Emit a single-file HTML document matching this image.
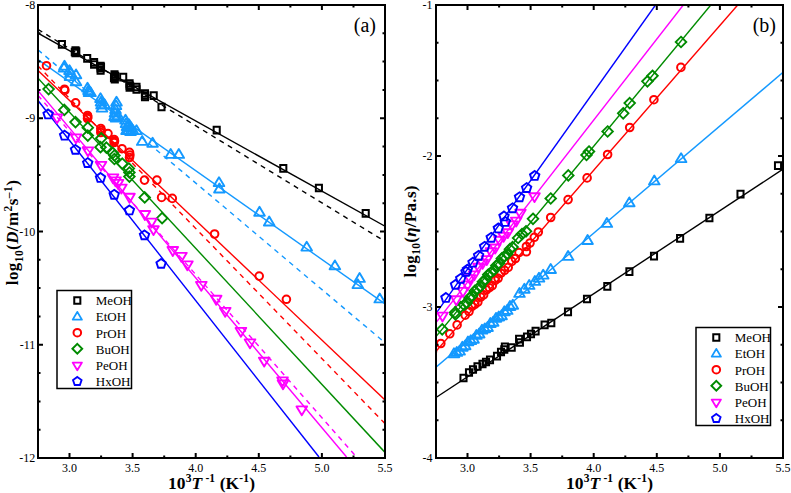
<!DOCTYPE html><html><head><meta charset="utf-8"><style>html,body{margin:0;padding:0;background:#fff;width:791px;height:493px;overflow:hidden}svg{display:block}text{font-family:"Liberation Serif",serif}</style></head><body>
<svg width="791" height="493" viewBox="0 0 791 493">
<defs>
<path id="sq" d="M-3.05,-3.35H3.05V3.35H-3.05Z" fill="none" stroke-width="2"/>
<circle id="ci" r="3.8" fill="none" stroke-width="2"/>
<path id="tu" d="M0,-3.9L4.6,3.8H-4.6Z" fill="none" stroke-width="1.85" stroke-linejoin="round"/>
<path id="td" d="M0,3.9L4.6,-3.8H-4.6Z" fill="none" stroke-width="1.85" stroke-linejoin="round"/>
<path id="di" d="M0,-4.9L4.9,0L0,4.9L-4.9,0Z" fill="none" stroke-width="1.95"/>
<polygon id="pe" points="0,-4.1 4.3,-1 2.6,4 -2.6,4 -4.3,-1" fill="none" stroke-width="1.85"/>
<path id="tU" d="M0,-4.8L5.3,4.1H-5.3Z" fill="none" stroke-width="1.9" stroke-linejoin="round"/>
<path id="tD" d="M0,4.8L5.3,-4.1H-5.3Z" fill="none" stroke-width="1.9" stroke-linejoin="round"/>
<path id="dI" d="M0,-5.3L5.3,0L0,5.3L-5.3,0Z" fill="none" stroke-width="1.85"/>
<polygon id="pE" points="0,-4.5 4.7,-1.1 2.9,4.4 -2.9,4.4 -4.7,-1.1" fill="none" stroke-width="1.9"/>
<clipPath id="cl"><rect x="38" y="5" width="347" height="453"/></clipPath>
<clipPath id="cr"><rect x="436" y="5" width="347" height="453"/></clipPath>
</defs>
<g clip-path="url(#cl)">
<line x1="38" y1="33.2" x2="385" y2="226.2" stroke="#000" stroke-width="1.4"/>
<line x1="38" y1="29.4" x2="385" y2="241.4" stroke="#000" stroke-width="1.4" stroke-dasharray="5,4.67"/>
<line x1="38" y1="59.6" x2="385" y2="303.9" stroke="#1499ff" stroke-width="1.4"/>
<line x1="38" y1="49.9" x2="385" y2="342.8" stroke="#1499ff" stroke-width="1.4" stroke-dasharray="5,4.67"/>
<line x1="38" y1="70.6" x2="385" y2="400" stroke="#ff0000" stroke-width="1.4"/>
<line x1="38" y1="65.9" x2="385" y2="423.6" stroke="#ff0000" stroke-width="1.4" stroke-dasharray="5,4.67"/>
<line x1="38" y1="78.3" x2="385" y2="452.4" stroke="#008b00" stroke-width="1.4"/>
<line x1="38" y1="90.7" x2="346.6" y2="457" stroke="#ff00ff" stroke-width="1.4"/>
<line x1="38" y1="95.5" x2="356.5" y2="457" stroke="#ff00ff" stroke-width="1.4" stroke-dasharray="5,4.67"/>
<line x1="38" y1="100.5" x2="319" y2="457" stroke="#0000ff" stroke-width="1.4"/>
</g>
<g clip-path="url(#cr)">
<line x1="436" y1="397.5" x2="783" y2="169.2" stroke="#000" stroke-width="1.4"/>
<line x1="436" y1="367.1" x2="783" y2="72.4" stroke="#1499ff" stroke-width="1.4"/>
<line x1="436" y1="351.2" x2="737.7" y2="5" stroke="#ff0000" stroke-width="1.4"/>
<line x1="436" y1="336.6" x2="710.8" y2="5" stroke="#008b00" stroke-width="1.4"/>
<line x1="436" y1="322.6" x2="683.3" y2="5" stroke="#ff00ff" stroke-width="1.4"/>
<line x1="436" y1="313.4" x2="655.5" y2="5" stroke="#0000ff" stroke-width="1.4"/>
</g>
<g clip-path="url(#cl)">
<use href="#sq" x="61.9" y="44.4" stroke="#000"/>
<use href="#sq" x="75.5" y="50.5" stroke="#000"/>
<use href="#sq" x="75.5" y="53" stroke="#000"/>
<use href="#sq" x="76.3" y="51.7" stroke="#000"/>
<use href="#sq" x="74.8" y="52" stroke="#000"/>
<use href="#sq" x="87.2" y="58.3" stroke="#000"/>
<use href="#sq" x="94.1" y="62.3" stroke="#000"/>
<use href="#sq" x="94.1" y="64.5" stroke="#000"/>
<use href="#sq" x="100.6" y="66" stroke="#000"/>
<use href="#sq" x="100.6" y="70.3" stroke="#000"/>
<use href="#sq" x="100.6" y="68.2" stroke="#000"/>
<use href="#sq" x="101" y="67" stroke="#000"/>
<use href="#sq" x="114.5" y="74.5" stroke="#000"/>
<use href="#sq" x="114.5" y="77" stroke="#000"/>
<use href="#sq" x="114.8" y="79.2" stroke="#000"/>
<use href="#sq" x="115.2" y="76" stroke="#000"/>
<use href="#sq" x="114" y="78" stroke="#000"/>
<use href="#sq" x="123.2" y="77.2" stroke="#000"/>
<use href="#sq" x="129.6" y="83.5" stroke="#000"/>
<use href="#sq" x="129.6" y="87.5" stroke="#000"/>
<use href="#sq" x="129.6" y="85.5" stroke="#000"/>
<use href="#sq" x="130.2" y="86.5" stroke="#000"/>
<use href="#sq" x="136.5" y="87" stroke="#000"/>
<use href="#sq" x="136.5" y="89.5" stroke="#000"/>
<use href="#sq" x="145" y="93.5" stroke="#000"/>
<use href="#sq" x="145" y="95.5" stroke="#000"/>
<use href="#sq" x="145" y="97" stroke="#000"/>
<use href="#sq" x="153.7" y="95.6" stroke="#000"/>
<use href="#sq" x="161.5" y="107" stroke="#000"/>
<use href="#sq" x="216.7" y="130.2" stroke="#000"/>
<use href="#sq" x="283.3" y="168.4" stroke="#000"/>
<use href="#sq" x="318.9" y="188" stroke="#000"/>
<use href="#sq" x="365.7" y="213.4" stroke="#000"/>
<use href="#tU" x="64.5" y="65.5" stroke="#1499ff"/>
<use href="#tU" x="64" y="67.5" stroke="#1499ff"/>
<use href="#tU" x="69.5" y="70" stroke="#1499ff"/>
<use href="#tU" x="70.5" y="72.5" stroke="#1499ff"/>
<use href="#tU" x="76" y="74.2" stroke="#1499ff"/>
<use href="#tU" x="70" y="76" stroke="#1499ff"/>
<use href="#tU" x="76" y="81.2" stroke="#1499ff"/>
<use href="#tU" x="87.5" y="87.5" stroke="#1499ff"/>
<use href="#tU" x="88.5" y="90" stroke="#1499ff"/>
<use href="#tU" x="89" y="92" stroke="#1499ff"/>
<use href="#tU" x="90.5" y="92" stroke="#1499ff"/>
<use href="#tU" x="100.5" y="98" stroke="#1499ff"/>
<use href="#tU" x="101" y="101.5" stroke="#1499ff"/>
<use href="#tU" x="101.5" y="104.5" stroke="#1499ff"/>
<use href="#tU" x="102" y="107.5" stroke="#1499ff"/>
<use href="#tU" x="104.5" y="104" stroke="#1499ff"/>
<use href="#tU" x="116.5" y="101.5" stroke="#1499ff"/>
<use href="#tU" x="116" y="105" stroke="#1499ff"/>
<use href="#tU" x="115.5" y="109" stroke="#1499ff"/>
<use href="#tU" x="115" y="112.5" stroke="#1499ff"/>
<use href="#tU" x="114.5" y="116" stroke="#1499ff"/>
<use href="#tU" x="118" y="115" stroke="#1499ff"/>
<use href="#tU" x="116" y="117.5" stroke="#1499ff"/>
<use href="#tU" x="125.5" y="119.5" stroke="#1499ff"/>
<use href="#tU" x="126" y="123" stroke="#1499ff"/>
<use href="#tU" x="127" y="126" stroke="#1499ff"/>
<use href="#tU" x="128.5" y="129.5" stroke="#1499ff"/>
<use href="#tU" x="129" y="124" stroke="#1499ff"/>
<use href="#tU" x="131" y="127" stroke="#1499ff"/>
<use href="#tU" x="133" y="130" stroke="#1499ff"/>
<use href="#tU" x="130.5" y="131" stroke="#1499ff"/>
<use href="#tU" x="126.5" y="130" stroke="#1499ff"/>
<use href="#tU" x="136.5" y="130" stroke="#1499ff"/>
<use href="#tU" x="142.2" y="140.8" stroke="#1499ff"/>
<use href="#tU" x="152.6" y="142.6" stroke="#1499ff"/>
<use href="#tU" x="170.7" y="153.8" stroke="#1499ff"/>
<use href="#tU" x="178.8" y="153.8" stroke="#1499ff"/>
<use href="#tU" x="219" y="182" stroke="#1499ff"/>
<use href="#tU" x="219.4" y="188.4" stroke="#1499ff"/>
<use href="#tU" x="259.5" y="211.6" stroke="#1499ff"/>
<use href="#tU" x="269.2" y="221.4" stroke="#1499ff"/>
<use href="#tU" x="306.7" y="246.5" stroke="#1499ff"/>
<use href="#tU" x="334.9" y="265.2" stroke="#1499ff"/>
<use href="#tU" x="359.6" y="277.8" stroke="#1499ff"/>
<use href="#tU" x="357.8" y="284" stroke="#1499ff"/>
<use href="#tU" x="379.7" y="298.3" stroke="#1499ff"/>
<use href="#ci" x="46.5" y="65.7" stroke="#ff0000"/>
<use href="#ci" x="64.5" y="89.2" stroke="#ff0000"/>
<use href="#ci" x="64.8" y="90.4" stroke="#ff0000"/>
<use href="#ci" x="75.6" y="102.8" stroke="#ff0000"/>
<use href="#ci" x="87.5" y="115.5" stroke="#ff0000"/>
<use href="#ci" x="87.5" y="118.5" stroke="#ff0000"/>
<use href="#ci" x="87.8" y="117" stroke="#ff0000"/>
<use href="#ci" x="100.8" y="128.5" stroke="#ff0000"/>
<use href="#ci" x="100.8" y="132.5" stroke="#ff0000"/>
<use href="#ci" x="101.2" y="130.5" stroke="#ff0000"/>
<use href="#ci" x="108" y="133.6" stroke="#ff0000"/>
<use href="#ci" x="114.1" y="139.5" stroke="#ff0000"/>
<use href="#ci" x="114.1" y="142.5" stroke="#ff0000"/>
<use href="#ci" x="114.5" y="141" stroke="#ff0000"/>
<use href="#ci" x="122" y="148.7" stroke="#ff0000"/>
<use href="#ci" x="129.5" y="152.3" stroke="#ff0000"/>
<use href="#ci" x="129.5" y="157.5" stroke="#ff0000"/>
<use href="#ci" x="129.9" y="155" stroke="#ff0000"/>
<use href="#ci" x="144.5" y="180.1" stroke="#ff0000"/>
<use href="#ci" x="156.9" y="180.1" stroke="#ff0000"/>
<use href="#ci" x="161.6" y="197.4" stroke="#ff0000"/>
<use href="#ci" x="172.3" y="198.4" stroke="#ff0000"/>
<use href="#ci" x="214.6" y="234" stroke="#ff0000"/>
<use href="#ci" x="259.2" y="276.1" stroke="#ff0000"/>
<use href="#ci" x="286.4" y="299.3" stroke="#ff0000"/>
<use href="#dI" x="48.6" y="89.1" stroke="#008b00"/>
<use href="#dI" x="64.3" y="109.9" stroke="#008b00"/>
<use href="#dI" x="75.5" y="122.1" stroke="#008b00"/>
<use href="#dI" x="87.8" y="127.7" stroke="#008b00"/>
<use href="#dI" x="87.8" y="135.6" stroke="#008b00"/>
<use href="#dI" x="101.2" y="138.3" stroke="#008b00"/>
<use href="#dI" x="100.5" y="147.2" stroke="#008b00"/>
<use href="#dI" x="106.4" y="147.6" stroke="#008b00"/>
<use href="#dI" x="112.8" y="153" stroke="#008b00"/>
<use href="#dI" x="114.4" y="155.5" stroke="#008b00"/>
<use href="#dI" x="114.4" y="159" stroke="#008b00"/>
<use href="#dI" x="122.3" y="163.6" stroke="#008b00"/>
<use href="#dI" x="128.8" y="168.5" stroke="#008b00"/>
<use href="#dI" x="129.4" y="172.5" stroke="#008b00"/>
<use href="#dI" x="129.4" y="176.6" stroke="#008b00"/>
<use href="#dI" x="144.7" y="197.4" stroke="#008b00"/>
<use href="#dI" x="162.1" y="218.2" stroke="#008b00"/>
<use href="#tD" x="57" y="118.5" stroke="#ff00ff"/>
<use href="#tD" x="76" y="138.5" stroke="#ff00ff"/>
<use href="#tD" x="88" y="151.5" stroke="#ff00ff"/>
<use href="#tD" x="101" y="166" stroke="#ff00ff"/>
<use href="#tD" x="113" y="178.5" stroke="#ff00ff"/>
<use href="#tD" x="115.5" y="181.5" stroke="#ff00ff"/>
<use href="#tD" x="118" y="184" stroke="#ff00ff"/>
<use href="#tD" x="121.4" y="188.7" stroke="#ff00ff"/>
<use href="#tD" x="129.5" y="197.9" stroke="#ff00ff"/>
<use href="#tD" x="144.9" y="215.1" stroke="#ff00ff"/>
<use href="#tD" x="151.5" y="222.7" stroke="#ff00ff"/>
<use href="#tD" x="153.5" y="230.3" stroke="#ff00ff"/>
<use href="#tD" x="172.8" y="251.1" stroke="#ff00ff"/>
<use href="#tD" x="181.4" y="257" stroke="#ff00ff"/>
<use href="#tD" x="187.4" y="265.5" stroke="#ff00ff"/>
<use href="#tD" x="201.3" y="286" stroke="#ff00ff"/>
<use href="#tD" x="216.2" y="299.9" stroke="#ff00ff"/>
<use href="#tD" x="225.2" y="312" stroke="#ff00ff"/>
<use href="#tD" x="240.9" y="332" stroke="#ff00ff"/>
<use href="#tD" x="250" y="343.5" stroke="#ff00ff"/>
<use href="#tD" x="264.2" y="361.8" stroke="#ff00ff"/>
<use href="#tD" x="282.5" y="381.5" stroke="#ff00ff"/>
<use href="#tD" x="283" y="384.5" stroke="#ff00ff"/>
<use href="#tD" x="301.8" y="410.5" stroke="#ff00ff"/>
<use href="#pE" x="48.1" y="114" stroke="#0000ff"/>
<use href="#pE" x="64.6" y="135.2" stroke="#0000ff"/>
<use href="#pE" x="75.5" y="149.4" stroke="#0000ff"/>
<use href="#pE" x="87.7" y="162.6" stroke="#0000ff"/>
<use href="#pE" x="100.5" y="177.5" stroke="#0000ff"/>
<use href="#pE" x="114.2" y="194.3" stroke="#0000ff"/>
<use href="#pE" x="129.4" y="210" stroke="#0000ff"/>
<use href="#pE" x="144.5" y="234.9" stroke="#0000ff"/>
<use href="#pE" x="161.1" y="263.4" stroke="#0000ff"/>
</g>
<g clip-path="url(#cr)">
<use href="#sq" x="486" y="362" stroke="#000"/>
<use href="#sq" x="501" y="352" stroke="#000"/>
<use href="#sq" x="531" y="334" stroke="#000"/>
<use href="#sq" x="463.5" y="378" stroke="#000"/>
<use href="#sq" x="469" y="372.5" stroke="#000"/>
<use href="#sq" x="473" y="369.5" stroke="#000"/>
<use href="#sq" x="477.5" y="366.5" stroke="#000"/>
<use href="#sq" x="482.5" y="364" stroke="#000"/>
<use href="#sq" x="490" y="359.8" stroke="#000"/>
<use href="#sq" x="497" y="356.2" stroke="#000"/>
<use href="#sq" x="504.3" y="349.5" stroke="#000"/>
<use href="#sq" x="504.9" y="346.8" stroke="#000"/>
<use href="#sq" x="511.7" y="347.5" stroke="#000"/>
<use href="#sq" x="519.1" y="339.2" stroke="#000"/>
<use href="#sq" x="519.9" y="342.5" stroke="#000"/>
<use href="#sq" x="527" y="336.8" stroke="#000"/>
<use href="#sq" x="535.6" y="331.1" stroke="#000"/>
<use href="#sq" x="544.6" y="324.8" stroke="#000"/>
<use href="#sq" x="551.3" y="323" stroke="#000"/>
<use href="#sq" x="568" y="311.9" stroke="#000"/>
<use href="#sq" x="587" y="299" stroke="#000"/>
<use href="#sq" x="607.3" y="286.3" stroke="#000"/>
<use href="#sq" x="629.4" y="271.7" stroke="#000"/>
<use href="#sq" x="654" y="256.1" stroke="#000"/>
<use href="#sq" x="680.1" y="238.4" stroke="#000"/>
<use href="#sq" x="709.4" y="218" stroke="#000"/>
<use href="#sq" x="740.5" y="194.2" stroke="#000"/>
<use href="#sq" x="778" y="165.6" stroke="#000"/>
<use href="#tU" x="454" y="353.1" stroke="#1499ff"/>
<use href="#tU" x="456.8" y="351.8" stroke="#1499ff"/>
<use href="#tU" x="459.6" y="350.5" stroke="#1499ff"/>
<use href="#tU" x="462.4" y="346.6" stroke="#1499ff"/>
<use href="#tU" x="465.2" y="345.2" stroke="#1499ff"/>
<use href="#tU" x="468" y="341.3" stroke="#1499ff"/>
<use href="#tU" x="470.8" y="340" stroke="#1499ff"/>
<use href="#tU" x="473.6" y="338.7" stroke="#1499ff"/>
<use href="#tU" x="476.4" y="334.8" stroke="#1499ff"/>
<use href="#tU" x="479.2" y="333.4" stroke="#1499ff"/>
<use href="#tU" x="482" y="329.5" stroke="#1499ff"/>
<use href="#tU" x="484.8" y="328.2" stroke="#1499ff"/>
<use href="#tU" x="487.6" y="326.9" stroke="#1499ff"/>
<use href="#tU" x="490.4" y="322.9" stroke="#1499ff"/>
<use href="#tU" x="493.2" y="321.6" stroke="#1499ff"/>
<use href="#tU" x="496" y="317.7" stroke="#1499ff"/>
<use href="#tU" x="498.8" y="316.4" stroke="#1499ff"/>
<use href="#tU" x="501.6" y="315.1" stroke="#1499ff"/>
<use href="#tU" x="504.4" y="311.1" stroke="#1499ff"/>
<use href="#tU" x="507.2" y="309.8" stroke="#1499ff"/>
<use href="#tU" x="510" y="305.9" stroke="#1499ff"/>
<use href="#tU" x="512.8" y="304.6" stroke="#1499ff"/>
<use href="#tU" x="519.5" y="292.8" stroke="#1499ff"/>
<use href="#tU" x="524.4" y="288.6" stroke="#1499ff"/>
<use href="#tU" x="529.2" y="284.8" stroke="#1499ff"/>
<use href="#tU" x="534.9" y="280.8" stroke="#1499ff"/>
<use href="#tU" x="539" y="277.5" stroke="#1499ff"/>
<use href="#tU" x="543.2" y="274.5" stroke="#1499ff"/>
<use href="#tU" x="550.7" y="268.9" stroke="#1499ff"/>
<use href="#tU" x="568.1" y="255.8" stroke="#1499ff"/>
<use href="#tU" x="587.6" y="239.9" stroke="#1499ff"/>
<use href="#tU" x="606.9" y="222.8" stroke="#1499ff"/>
<use href="#tU" x="629.3" y="202.2" stroke="#1499ff"/>
<use href="#tU" x="654.3" y="180.3" stroke="#1499ff"/>
<use href="#tU" x="681.1" y="158" stroke="#1499ff"/>
<use href="#ci" x="432.5" y="351.5" stroke="#ff0000"/>
<use href="#ci" x="440.8" y="343.5" stroke="#ff0000"/>
<use href="#ci" x="449.8" y="333.8" stroke="#ff0000"/>
<use href="#ci" x="457.1" y="324.9" stroke="#ff0000"/>
<use href="#ci" x="465.2" y="315.2" stroke="#ff0000"/>
<use href="#ci" x="469" y="311.5" stroke="#ff0000"/>
<use href="#ci" x="472" y="306.4" stroke="#ff0000"/>
<use href="#ci" x="474.9" y="304.3" stroke="#ff0000"/>
<use href="#ci" x="477.8" y="302.2" stroke="#ff0000"/>
<use href="#ci" x="480.7" y="297" stroke="#ff0000"/>
<use href="#ci" x="483.6" y="294.9" stroke="#ff0000"/>
<use href="#ci" x="486.5" y="289.8" stroke="#ff0000"/>
<use href="#ci" x="489.4" y="287.7" stroke="#ff0000"/>
<use href="#ci" x="492.3" y="285.6" stroke="#ff0000"/>
<use href="#ci" x="495.2" y="280.4" stroke="#ff0000"/>
<use href="#ci" x="498.1" y="278.3" stroke="#ff0000"/>
<use href="#ci" x="501" y="273.2" stroke="#ff0000"/>
<use href="#ci" x="504.6" y="270.3" stroke="#ff0000"/>
<use href="#ci" x="508.2" y="267.4" stroke="#ff0000"/>
<use href="#ci" x="511.8" y="261.4" stroke="#ff0000"/>
<use href="#ci" x="515.4" y="258.5" stroke="#ff0000"/>
<use href="#ci" x="519" y="252.6" stroke="#ff0000"/>
<use href="#ci" x="526.4" y="246.5" stroke="#ff0000"/>
<use href="#ci" x="526.4" y="251.8" stroke="#ff0000"/>
<use href="#ci" x="530" y="243" stroke="#ff0000"/>
<use href="#ci" x="534.3" y="237.3" stroke="#ff0000"/>
<use href="#ci" x="538.3" y="232" stroke="#ff0000"/>
<use href="#ci" x="550.7" y="217.5" stroke="#ff0000"/>
<use href="#ci" x="568.1" y="199.6" stroke="#ff0000"/>
<use href="#ci" x="587.1" y="177.9" stroke="#ff0000"/>
<use href="#ci" x="607.6" y="154.5" stroke="#ff0000"/>
<use href="#ci" x="629.7" y="127.5" stroke="#ff0000"/>
<use href="#ci" x="653.9" y="99.7" stroke="#ff0000"/>
<use href="#ci" x="680.9" y="67.4" stroke="#ff0000"/>
<use href="#dI" x="442.2" y="329.3" stroke="#008b00"/>
<use href="#dI" x="455" y="312.6" stroke="#008b00"/>
<use href="#dI" x="455.5" y="314.5" stroke="#008b00"/>
<use href="#dI" x="460.5" y="307" stroke="#008b00"/>
<use href="#dI" x="464" y="305" stroke="#008b00"/>
<use href="#dI" x="466.7" y="302.9" stroke="#008b00"/>
<use href="#dI" x="469.4" y="298" stroke="#008b00"/>
<use href="#dI" x="472.1" y="295.8" stroke="#008b00"/>
<use href="#dI" x="474.8" y="290.9" stroke="#008b00"/>
<use href="#dI" x="477.5" y="288.8" stroke="#008b00"/>
<use href="#dI" x="480.2" y="286.7" stroke="#008b00"/>
<use href="#dI" x="482.9" y="281.7" stroke="#008b00"/>
<use href="#dI" x="485.6" y="279.6" stroke="#008b00"/>
<use href="#dI" x="488.3" y="274.6" stroke="#008b00"/>
<use href="#dI" x="491" y="272.5" stroke="#008b00"/>
<use href="#dI" x="493.7" y="270.4" stroke="#008b00"/>
<use href="#dI" x="496.4" y="265.5" stroke="#008b00"/>
<use href="#dI" x="499.1" y="263.3" stroke="#008b00"/>
<use href="#dI" x="501.8" y="258.4" stroke="#008b00"/>
<use href="#dI" x="504.5" y="256.3" stroke="#008b00"/>
<use href="#dI" x="507.2" y="254.1" stroke="#008b00"/>
<use href="#dI" x="509.9" y="249.2" stroke="#008b00"/>
<use href="#dI" x="512.6" y="247.1" stroke="#008b00"/>
<use href="#dI" x="518.1" y="238" stroke="#008b00"/>
<use href="#dI" x="522" y="234" stroke="#008b00"/>
<use href="#dI" x="526" y="231.3" stroke="#008b00"/>
<use href="#dI" x="533" y="218.8" stroke="#008b00"/>
<use href="#dI" x="550.7" y="198.5" stroke="#008b00"/>
<use href="#dI" x="568.3" y="175.4" stroke="#008b00"/>
<use href="#dI" x="586.5" y="155" stroke="#008b00"/>
<use href="#dI" x="589" y="151.5" stroke="#008b00"/>
<use href="#dI" x="607.6" y="131.5" stroke="#008b00"/>
<use href="#dI" x="623.2" y="113.3" stroke="#008b00"/>
<use href="#dI" x="629.7" y="103.1" stroke="#008b00"/>
<use href="#dI" x="647.4" y="81.3" stroke="#008b00"/>
<use href="#dI" x="652.5" y="75.8" stroke="#008b00"/>
<use href="#dI" x="681" y="42" stroke="#008b00"/>
<use href="#tD" x="442.5" y="316.7" stroke="#ff00ff"/>
<use href="#tD" x="456.3" y="300.4" stroke="#ff00ff"/>
<use href="#tD" x="463" y="292" stroke="#ff00ff"/>
<use href="#tD" x="467.5" y="285.5" stroke="#ff00ff"/>
<use href="#tD" x="470" y="279.2" stroke="#ff00ff"/>
<use href="#tD" x="474.2" y="275.5" stroke="#ff00ff"/>
<use href="#tD" x="478.4" y="267.7" stroke="#ff00ff"/>
<use href="#tD" x="482.6" y="263.9" stroke="#ff00ff"/>
<use href="#tD" x="486.8" y="260.2" stroke="#ff00ff"/>
<use href="#tD" x="491" y="252.4" stroke="#ff00ff"/>
<use href="#tD" x="495.2" y="248.6" stroke="#ff00ff"/>
<use href="#tD" x="499.4" y="240.8" stroke="#ff00ff"/>
<use href="#tD" x="503.6" y="237" stroke="#ff00ff"/>
<use href="#tD" x="507.8" y="233.3" stroke="#ff00ff"/>
<use href="#tD" x="512" y="225.5" stroke="#ff00ff"/>
<use href="#tD" x="516.2" y="221.7" stroke="#ff00ff"/>
<use href="#tD" x="520.4" y="213.9" stroke="#ff00ff"/>
<use href="#tD" x="534.5" y="197.3" stroke="#ff00ff"/>
<use href="#pE" x="445.9" y="297.5" stroke="#0000ff"/>
<use href="#pE" x="455.5" y="284.4" stroke="#0000ff"/>
<use href="#pE" x="460.7" y="278.3" stroke="#0000ff"/>
<use href="#pE" x="466" y="271.5" stroke="#0000ff"/>
<use href="#pE" x="467.4" y="269.2" stroke="#0000ff"/>
<use href="#pE" x="473" y="262.2" stroke="#0000ff"/>
<use href="#pE" x="478.6" y="255.3" stroke="#0000ff"/>
<use href="#pE" x="484.6" y="246.3" stroke="#0000ff"/>
<use href="#pE" x="491.2" y="237.3" stroke="#0000ff"/>
<use href="#pE" x="498.3" y="228" stroke="#0000ff"/>
<use href="#pE" x="504" y="216" stroke="#0000ff"/>
<use href="#pE" x="505.3" y="221.5" stroke="#0000ff"/>
<use href="#pE" x="512.5" y="207.8" stroke="#0000ff"/>
<use href="#pE" x="519.5" y="196.8" stroke="#0000ff"/>
<use href="#pE" x="526.6" y="187.6" stroke="#0000ff"/>
<use href="#pE" x="534.7" y="175.5" stroke="#0000ff"/>
</g>
<rect x="38" y="5" width="347" height="453" fill="none" stroke="#000" stroke-width="2"/><path d="M38,118.2h5M385,118.2h-5M38,231.5h5M385,231.5h-5M38,344.8h5M385,344.8h-5M38,33.3h2.5M385,33.3h-2.5M38,61.6h2.5M385,61.6h-2.5M38,89.9h2.5M385,89.9h-2.5M38,146.6h2.5M385,146.6h-2.5M38,174.9h2.5M385,174.9h-2.5M38,203.2h2.5M385,203.2h-2.5M38,259.8h2.5M385,259.8h-2.5M38,288.1h2.5M385,288.1h-2.5M38,316.4h2.5M385,316.4h-2.5M38,373.1h2.5M385,373.1h-2.5M38,401.4h2.5M385,401.4h-2.5M38,429.7h2.5M385,429.7h-2.5M69.5,458v-5M69.5,5v5M132.6,458v-5M132.6,5v5M195.7,458v-5M195.7,5v5M258.8,458v-5M258.8,5v5M321.9,458v-5M321.9,5v5M101.1,458v-2.5M101.1,5v2.5M164.2,458v-2.5M164.2,5v2.5M227.3,458v-2.5M227.3,5v2.5M290.4,458v-2.5M290.4,5v2.5M353.5,458v-2.5M353.5,5v2.5" stroke="#000" stroke-width="2" fill="none"/>
<rect x="436" y="5" width="347" height="453" fill="none" stroke="#000" stroke-width="2"/><path d="M436,156h5M783,156h-5M436,307h5M783,307h-5M436,42.8h2.5M783,42.8h-2.5M436,80.5h2.5M783,80.5h-2.5M436,118.2h2.5M783,118.2h-2.5M436,193.8h2.5M783,193.8h-2.5M436,231.5h2.5M783,231.5h-2.5M436,269.2h2.5M783,269.2h-2.5M436,344.8h2.5M783,344.8h-2.5M436,382.5h2.5M783,382.5h-2.5M436,420.2h2.5M783,420.2h-2.5M467.5,458v-5M467.5,5v5M530.6,458v-5M530.6,5v5M593.7,458v-5M593.7,5v5M656.8,458v-5M656.8,5v5M719.9,458v-5M719.9,5v5M499.1,458v-2.5M499.1,5v2.5M562.2,458v-2.5M562.2,5v2.5M625.3,458v-2.5M625.3,5v2.5M688.4,458v-2.5M688.4,5v2.5M751.5,458v-2.5M751.5,5v2.5" stroke="#000" stroke-width="2" fill="none"/>
<text x="69.5" y="472.2" font-size="12" text-anchor="middle">3.0</text>
<text x="132.6" y="472.2" font-size="12" text-anchor="middle">3.5</text>
<text x="195.7" y="472.2" font-size="12" text-anchor="middle">4.0</text>
<text x="258.8" y="472.2" font-size="12" text-anchor="middle">4.5</text>
<text x="321.9" y="472.2" font-size="12" text-anchor="middle">5.0</text>
<text x="385" y="472.2" font-size="12" text-anchor="middle">5.5</text>
<text x="467.5" y="472.2" font-size="12" text-anchor="middle">3.0</text>
<text x="530.6" y="472.2" font-size="12" text-anchor="middle">3.5</text>
<text x="593.7" y="472.2" font-size="12" text-anchor="middle">4.0</text>
<text x="656.8" y="472.2" font-size="12" text-anchor="middle">4.5</text>
<text x="719.9" y="472.2" font-size="12" text-anchor="middle">5.0</text>
<text x="783" y="472.2" font-size="12" text-anchor="middle">5.5</text>
<text x="35.3" y="9" font-size="12" text-anchor="end">-8</text>
<text x="35.3" y="122.2" font-size="12" text-anchor="end">-9</text>
<text x="35.3" y="235.5" font-size="12" text-anchor="end">-10</text>
<text x="35.3" y="348.8" font-size="12" text-anchor="end">-11</text>
<text x="35.3" y="462" font-size="12" text-anchor="end">-12</text>
<text x="432.4" y="9" font-size="12" text-anchor="end">-1</text>
<text x="432.4" y="160" font-size="12" text-anchor="end">-2</text>
<text x="432.4" y="311" font-size="12" text-anchor="end">-3</text>
<text x="432.4" y="462" font-size="12" text-anchor="end">-4</text>
<text x="211.5" y="488.6" font-size="17.5" font-weight="bold" text-anchor="middle" textLength="87" lengthAdjust="spacing">10<tspan font-size="11.5" dy="-6.5">3</tspan><tspan font-style="italic" dy="6.5">T</tspan><tspan font-size="11.5" dy="-6.5"> -1</tspan><tspan dy="6.5"> (K</tspan><tspan font-size="11.5" dy="-6.5">-1</tspan><tspan dy="6.5">)</tspan></text>
<text x="609.5" y="488.6" font-size="17.5" font-weight="bold" text-anchor="middle" textLength="87" lengthAdjust="spacing">10<tspan font-size="11.5" dy="-6.5">3</tspan><tspan font-style="italic" dy="6.5">T</tspan><tspan font-size="11.5" dy="-6.5"> -1</tspan><tspan dy="6.5"> (K</tspan><tspan font-size="11.5" dy="-6.5">-1</tspan><tspan dy="6.5">)</tspan></text>
<text transform="translate(18.3,232.7) rotate(-90)" font-size="17" font-weight="bold" text-anchor="middle" textLength="105" lengthAdjust="spacing">log<tspan font-size="11.5" dy="4.5">10</tspan><tspan dy="-4.5">(</tspan><tspan font-style="italic">D</tspan>/m<tspan font-size="11.5" dy="-6.5">2</tspan><tspan dy="6.5">s</tspan><tspan font-size="11.5" dy="-6.5">&#8211;1</tspan><tspan dy="6.5">)</tspan></text>
<text transform="translate(415.5,231.5) rotate(-90)" font-size="17" font-weight="bold" text-anchor="middle" textLength="92" lengthAdjust="spacing">log<tspan font-size="11.5" dy="4.5">10</tspan><tspan dy="-4.5">(</tspan><tspan font-style="italic">&#951;</tspan>/Pa.s)</text>
<text x="376" y="32.3" font-size="20" text-anchor="end">(a)</text>
<text x="776" y="31.8" font-size="20" text-anchor="end">(b)</text>
<rect x="57" y="290.5" width="74.5" height="98" fill="#fff" stroke="#000" stroke-width="1.5"/>
<use href="#sq" x="77.3" y="300.5" stroke="#000"/>
<text x="95.8" y="305.3" font-size="13" text-anchor="start">MeOH</text>
<use href="#tu" x="77.3" y="315.8" stroke="#1499ff"/>
<text x="95.8" y="321.4" font-size="13" text-anchor="start">EtOH</text>
<use href="#ci" x="77.3" y="332.7" stroke="#ff0000"/>
<text x="95.8" y="337.5" font-size="13" text-anchor="start">PrOH</text>
<use href="#di" x="77.3" y="348.8" stroke="#008b00"/>
<text x="95.8" y="353.6" font-size="13" text-anchor="start">BuOH</text>
<use href="#td" x="77.3" y="366.4" stroke="#ff00ff"/>
<text x="95.8" y="369.7" font-size="13" text-anchor="start">PeOH</text>
<use href="#pe" x="77.3" y="381" stroke="#0000ff"/>
<text x="95.8" y="385.8" font-size="13" text-anchor="start">HxOH</text>
<rect x="696" y="327.5" width="74.5" height="98" fill="#fff" stroke="#000" stroke-width="1.5"/>
<use href="#sq" x="716.3" y="337.5" stroke="#000"/>
<text x="734.8" y="342.3" font-size="13" text-anchor="start">MeOH</text>
<use href="#tu" x="716.3" y="352.8" stroke="#1499ff"/>
<text x="734.8" y="358.4" font-size="13" text-anchor="start">EtOH</text>
<use href="#ci" x="716.3" y="369.7" stroke="#ff0000"/>
<text x="734.8" y="374.5" font-size="13" text-anchor="start">PrOH</text>
<use href="#di" x="716.3" y="385.8" stroke="#008b00"/>
<text x="734.8" y="390.6" font-size="13" text-anchor="start">BuOH</text>
<use href="#td" x="716.3" y="403.4" stroke="#ff00ff"/>
<text x="734.8" y="406.7" font-size="13" text-anchor="start">PeOH</text>
<use href="#pe" x="716.3" y="418" stroke="#0000ff"/>
<text x="734.8" y="422.8" font-size="13" text-anchor="start">HxOH</text>
</svg></body></html>
